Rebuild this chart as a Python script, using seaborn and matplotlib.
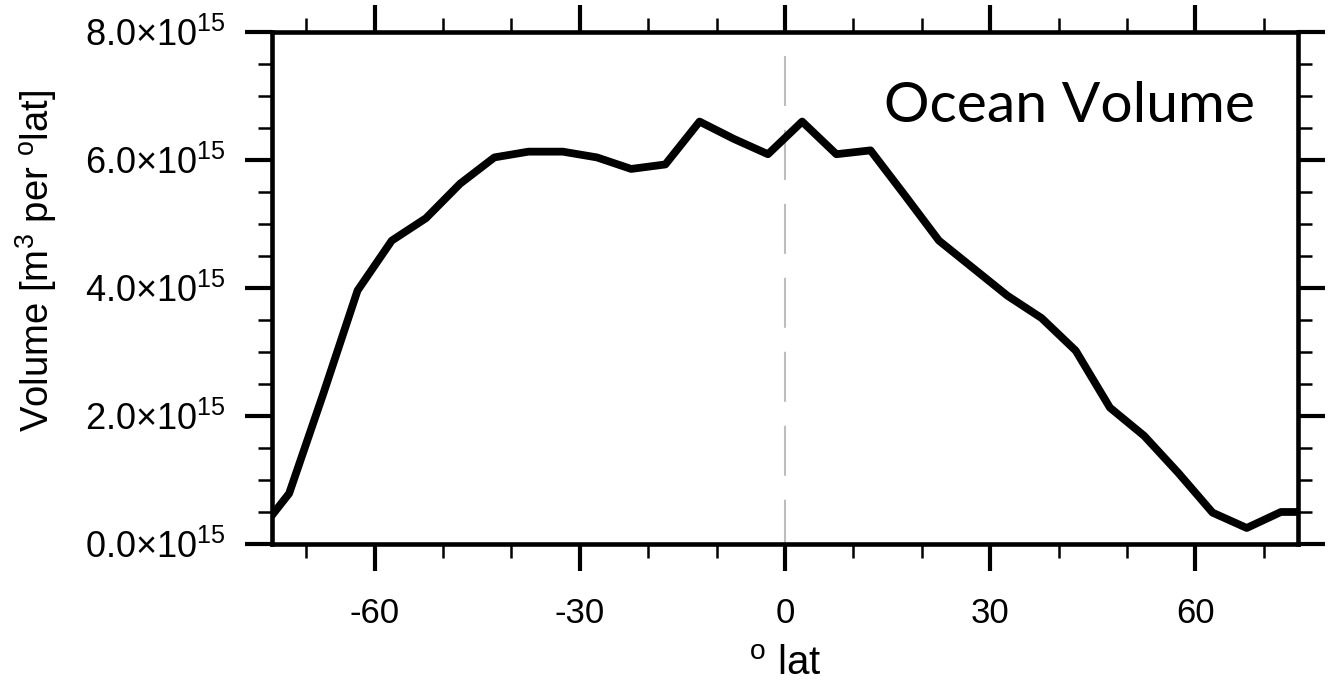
import matplotlib
matplotlib.use("Agg")
import matplotlib.pyplot as plt
from matplotlib.ticker import MultipleLocator, FuncFormatter
import seaborn as sns
import pandas as pd
import numpy as np

# ---- data ----
lat = [-75, -72.5, -67.5, -62.5, -57.5, -52.5, -47.5, -42.5, -37.5, -32.5,
       -27.5, -22.5, -17.5, -12.5, -7.5, -2.5, 2.5, 7.5, 12.5, 17.5,
       22.5, 27.5, 32.5, 37.5, 42.5, 47.5, 52.5, 57.5, 62.5, 67.5, 72.5, 75]
volume_e15 = [0.45, 0.79, 2.35, 3.96, 4.74, 5.09, 5.63, 6.04, 6.13, 6.13,
              6.04, 5.86, 5.93, 6.60, 6.33, 6.09, 6.60, 6.09, 6.15, 5.45,
              4.74, 4.31, 3.88, 3.53, 3.02, 2.13, 1.69, 1.11, 0.49, 0.25, 0.50, 0.50]
x_ticks = [-60, -30, 0, 30, 60]
title_text = "Ocean Volume"

df = pd.DataFrame({"lat": lat, "volume": np.array(volume_e15) * 1e15})

sns.set_style("white")
plt.rcParams["font.family"] = ["Liberation Sans", "DejaVu Sans"]
plt.rcParams["mathtext.fontset"] = "custom"
plt.rcParams["mathtext.rm"] = "Liberation Sans"
plt.rcParams["mathtext.it"] = "Liberation Sans:italic"
plt.rcParams["mathtext.bf"] = "Liberation Sans:bold"
for k in ["text.color", "axes.labelcolor", "xtick.color", "ytick.color", "axes.edgecolor"]:
    plt.rcParams[k] = "black"

fig = plt.figure(figsize=(13.29, 6.92), dpi=100)
ax = fig.add_axes([0.2047, 0.2139, 0.7720, 0.7399])

# zero-latitude reference line (dashed, grey), drawn from top to bottom
ax.axvline(0, ymin=1, ymax=0, color="#bdbdbd", lw=1.5,
           linestyle=(24, (24, 11.5)), zorder=1)

sns.lineplot(data=df, x="lat", y="volume", ax=ax, color="black",
             linewidth=5.6, zorder=3, estimator=None, sort=False)

ax.set_xlim(-75, 75)
ax.set_ylim(0, 8e15)
ax.xaxis.set_major_locator(MultipleLocator(30))
ax.xaxis.set_minor_locator(MultipleLocator(10))
ax.yaxis.set_major_locator(MultipleLocator(2e15))
ax.yaxis.set_minor_locator(MultipleLocator(0.5e15))
ax.set_xticks(x_ticks)
ax.set_xticklabels([str(t) for t in x_ticks])
ax.yaxis.set_major_formatter(
    FuncFormatter(lambda v, p: r"$\mathregular{%.1f{\times}10^{15}}$" % (v / 1e15)))

for s in ax.spines.values():
    s.set_visible(True)
    s.set_linewidth(3.3)
    s.set_color("black")

ax.tick_params(which="major", direction="out", length=19.5, width=3,
               top=True, right=True, bottom=True, left=True, color="black")
ax.tick_params(which="minor", direction="out", length=10, width=1.8,
               top=True, right=True, bottom=True, left=True, color="black")
ax.tick_params(axis="x", which="major", labelsize=25, pad=19)
ax.tick_params(axis="y", which="major", labelsize=26, pad=14)

ax.set_xlabel(r"$\mathregular{^o}$ lat", fontsize=29)
ax.xaxis.set_label_coords(0.5, -0.198)
ax.set_ylabel(r"Volume [m$\mathregular{^3}$ per $\mathregular{^o}$lat]", fontsize=27.5)
ax.yaxis.set_label_coords(-0.208, 0.552)

ax.text(0.958, 0.825, title_text, transform=ax.transAxes, ha="right",
        va="baseline", fontsize=41, family=["Lato", "DejaVu Sans"], color="black")

fig.savefig("out.png", dpi=100)
